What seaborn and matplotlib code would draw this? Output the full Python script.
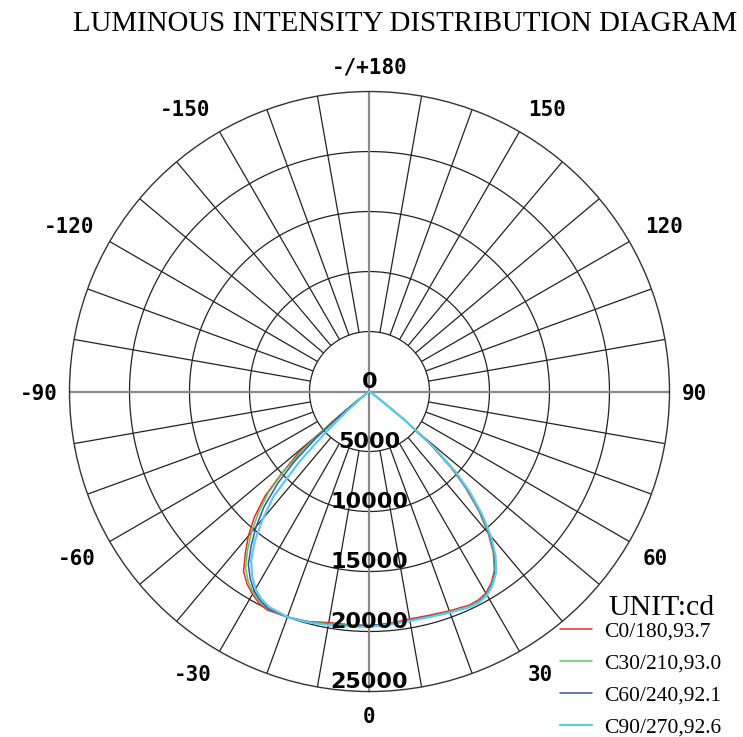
import numpy as np
import pandas as pd
import matplotlib
matplotlib.use("Agg")
import matplotlib.pyplot as plt
import seaborn as sns

# gamma angles (deg), same grid for every half-plane
gamma = [0, 5, 10, 15, 20, 25, 27.5, 30, 32.5, 35, 37.5, 40, 42.5, 45, 47, 49, 51, 53, 55, 60, 70, 80, 90]

# intensities (cd), right half (C0..C90) and left half (C180..C270)
c0_right = [19500, 19400, 19250, 19300, 19450, 19650, 19600, 19400, 18900, 18150, 16950, 15400, 13500, 11300, 9300, 6800, 3700, 1000, 300, 100, 50, 20, 0]
c180_left = [19500, 19500, 19550, 19850, 20000, 20100, 19900, 19500, 19000, 18300, 17000, 15700, 14200, 12300, 10000, 8000, 4000, 1400, 400, 100, 50, 20, 0]
c30_right = [19500, 19450, 19350, 19400, 19550, 19750, 19700, 19500, 19000, 18250, 17050, 15500, 13600, 11450, 9450, 7000, 3800, 1000, 300, 100, 50, 20, 0]
c210_left = [19500, 19550, 19650, 19850, 20000, 20000, 19750, 19350, 18800, 18000, 16700, 15300, 13700, 11900, 9800, 7200, 3800, 1200, 350, 100, 50, 20, 0]
c60_right = [19500, 19450, 19350, 19400, 19600, 19800, 19750, 19550, 19050, 18300, 17150, 15600, 13700, 11600, 9600, 7100, 3800, 1000, 300, 100, 50, 20, 0]
c240_left = [19500, 19600, 19700, 19850, 20000, 19950, 19650, 19200, 18500, 17600, 16200, 14700, 13000, 10800, 8600, 5900, 3000, 1000, 300, 100, 50, 20, 0]
c90_right = [19600, 19500, 19400, 19450, 19600, 19800, 19800, 19600, 19100, 18400, 17250, 15750, 13900, 11800, 9800, 7200, 3900, 1000, 300, 100, 50, 20, 0]
c270_left = [19600, 19650, 19750, 19900, 20000, 19800, 19500, 19000, 18200, 17200, 15700, 13800, 11800, 8200, 5000, 2500, 900, 300, 150, 80, 40, 20, 0]

labels = ["C0/180,93.7", "C30/210,93.0", "C60/240,92.1", "C90/270,92.6"]
colors = ["#ec2a2a", "#5cc84e", "#3c50a4", "#5ccbe6"]

r_rings = [5000, 10000, 15000, 20000, 25000]
angle_ticks = [0, 30, 60, 90, 120, 150, 180, -150, -120, -90, -60, -30]
angle_names = ["0", "30", "60", "90", "120", "150", "-/+180", "-150", "-120", "-90", "-60", "-30"]

halves = [(c0_right, c180_left), (c30_right, c210_left), (c60_right, c240_left), (c90_right, c270_left)]
rows = []
for name, (right, left) in zip(labels, halves):
    g = np.array(gamma, dtype=float)
    th = np.concatenate([-g[::-1], g[1:]])
    val = np.concatenate([np.array(left[::-1]), np.array(right[1:])])
    rows.append(pd.DataFrame({"theta": np.deg2rad(th), "cd": val, "curve": name}))
df = pd.concat(rows, ignore_index=True)

sns.set_theme(style="white")
plt.rcParams["font.family"] = ["DejaVu Sans"]
plt.rcParams["text.color"] = "black"

fig = plt.figure(figsize=(7.43, 7.37), dpi=100)
ax = fig.add_axes([0.0935, 0.0617, 0.8076, 0.8141], projection="polar")
ax.set_theta_zero_location("S")
ax.set_theta_direction(1)
ax.set_ylim(0, 25000)
ax.grid(False)
ax.set_xticks([])
ax.set_yticks([])

# rings and spokes
for r in r_rings[:-1]:
    ax.plot(np.linspace(0, 2 * np.pi, 361), np.full(361, r), color="#222222", lw=0.9, zorder=1)
spokes = [np.deg2rad(a) for a in range(0, 360, 10) if a % 90 != 0]
ax.vlines(spokes, 5000, 25000, color="#222222", lw=0.9, zorder=1)
ax.vlines(np.deg2rad([0, 90, 180, 270]), 0, 25000, color="#8a8a8a", lw=1.6, zorder=1)
ax.spines["polar"].set_color("#333333")
ax.spines["polar"].set_linewidth(1.0)

for name, col in zip(labels, colors):
    sub = df[df["curve"] == name]
    sns.lineplot(data=sub, x="theta", y="cd", ax=ax, color=col, lw=1.6 if col == colors[-1] else 1.1,
                 sort=False, estimator=None, label=name, zorder=3)
ax.set_xlabel("")
ax.set_ylabel("")
ax.get_legend().remove()

# radial labels along the 0 direction
for r in [0] + r_rings:
    ax.text(0 if r > 0 else np.pi, r, str(r), ha="center", va="bottom", fontsize=16, fontweight="bold",
            family="DejaVu Sans", color="black", zorder=4)

# angle labels, anchored by their corner nearest the ring
for a, s in zip(angle_ticks, angle_names):
    sa, ca = np.sin(np.deg2rad(a)), -np.cos(np.deg2rad(a))
    ha = "center" if abs(sa) < 0.01 else ("left" if sa > 0 else "right")
    if abs(ca) < 0.01:
        va, rr = "center_baseline", 26000
    elif ca > 0:
        va, rr = "baseline", 26500
    else:
        va, rr = "top", 26300
    ax.text(np.deg2rad(a), rr, s, ha=ha, va=va, fontsize=15, fontweight="bold",
            family="DejaVu Sans Mono", color="black", clip_on=False)

fig.text(0.545, 0.967, "LUMINOUS INTENSITY DISTRIBUTION DIAGRAM", ha="center", va="center",
         fontsize=20.8, family="Liberation Serif", color="black")
fig.text(608 / 743, 1 - 608 / 737, "UNIT:cd", ha="left", va="center", fontsize=21.5,
         family="Liberation Serif", color="black")

handles = ax.get_lines()[-4:]
fig.legend(handles, labels, loc="upper left", bbox_to_anchor=(560 / 743, 1 - 621 / 737),
           frameon=False, borderpad=0, borderaxespad=0, handlelength=1.5, handletextpad=0.55,
           labelspacing=0.56, prop={"family": "Liberation Serif", "size": 15.5})

fig.savefig("out.png", dpi=100)
